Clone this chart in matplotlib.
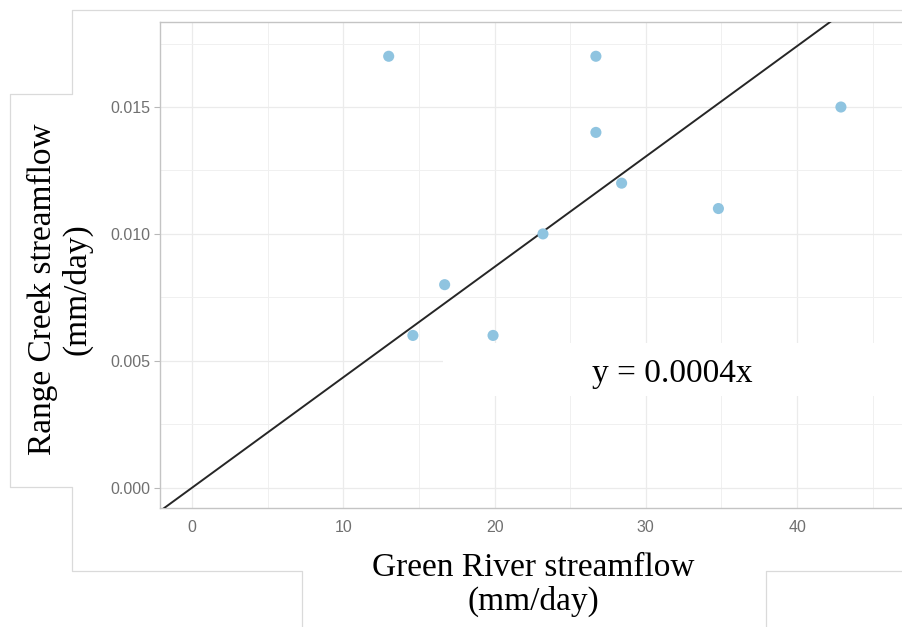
import matplotlib.pyplot as plt
import numpy as np
from matplotlib.lines import Line2D
from matplotlib.patches import Rectangle

# data
green_river = [13.0, 26.7, 14.6, 16.7, 19.9, 23.2, 26.7, 28.4, 34.8, 42.9]
range_creek = [0.017, 0.017, 0.006, 0.008, 0.006, 0.010, 0.014, 0.012, 0.011, 0.015]
slope = 0.000435
eq_label = 'y = 0.0004x'
x_ticks = [0, 10, 20, 30, 40]
y_ticks = [0.000, 0.005, 0.010, 0.015]

W, H = 902, 627
fig = plt.figure(figsize=(W / 100, H / 100), dpi=100)

# helper: pixel box -> figure fraction
def fx(px):
    return px / W

def fy(py):
    return 1 - py / H

ax = fig.add_axes([fx(160), fy(508), fx(910.5) - fx(160), fy(22) - fy(508)])
ax.set_xlim(-2.12, 47.5)
ax.set_ylim(-0.0008, 0.01835)

ax.set_xticks(x_ticks)
ax.set_xticks(np.arange(5, 50, 10), minor=True)
ax.set_yticks(y_ticks)
ax.set_yticks([0.0025, 0.0075, 0.0125, 0.0175], minor=True)
ax.set_xticklabels([str(v) for v in x_ticks])
ax.set_yticklabels(['%.3f' % v for v in y_ticks])
ax.grid(which='major', color='#ebebeb', lw=0.9)
ax.grid(which='minor', color='#f0f0f0', lw=0.7)
ax.set_axisbelow(True)

ax.tick_params(axis='both', which='both', labelsize=11.5, labelcolor='#707070',
               labelfontfamily='Liberation Sans')
ax.tick_params(axis='y', which='major', length=4, color='#b8b8b8', width=0.8, pad=3)
ax.tick_params(axis='x', which='major', length=0, pad=9)
ax.tick_params(which='minor', length=0)

for side in ['left', 'top', 'bottom']:
    ax.spines[side].set_color('#c4c4c4')
    ax.spines[side].set_linewidth(1.0)
ax.spines['right'].set_visible(False)

xs = np.array(ax.get_xlim())
ax.plot(xs, slope * xs, color='#262626', lw=1.4, zorder=3)
ax.scatter(green_river, range_creek, s=64, color='#8fc4e0', edgecolors='none', zorder=4)

# white box behind the equation
fig.add_artist(Rectangle((fx(443), fy(396)), fx(902) - fx(443), fy(343) - fy(396),
                         transform=fig.transFigure, facecolor='white', edgecolor='none',
                         zorder=5))
fig.text(fx(672), fy(382), eq_label, ha='center', va='baseline', fontsize=24,
         family='Liberation Serif', color='black', zorder=6)

# axis titles
fig.text(fx(533), fy(585), 'Green River streamflow\n(mm/day)', ha='center', va='center',
         fontsize=24, family='Liberation Serif', linespacing=1.12)
fig.text(fx(60), fy(289), 'Range Creek streamflow\n(mm/day)', ha='center', va='center',
         rotation=90, fontsize=24, family='Liberation Serif', linespacing=1.12)

# light outlines of the pasted boxes
outline1 = [(902, 10), (72, 10), (72, 94), (10, 94), (10, 487), (72, 487),
            (72, 571), (302, 571), (302, 627)]
outline2 = [(766, 627), (766, 571), (902, 571)]
for pts in [outline1, outline2]:
    px, py = zip(*pts)
    fig.add_artist(Line2D([fx(p) for p in px], [fy(p) for p in py],
                          transform=fig.transFigure, color='#dadada', lw=0.9, zorder=7))

fig.savefig('out.png', dpi=100)
